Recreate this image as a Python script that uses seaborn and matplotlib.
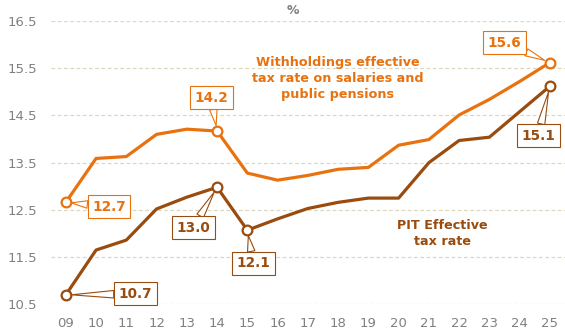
import matplotlib
matplotlib.use("Agg")
import matplotlib.pyplot as plt
import seaborn as sns
import pandas as pd
import numpy as np

years = list(range(9, 26))
year_labels = [f"{y:02d}" for y in years]
withholdings = [12.66, 13.59, 13.63, 14.10, 14.21, 14.17, 13.28, 13.13, 13.23, 13.36, 13.40,
                13.87, 13.99, 14.51, 14.84, 15.22, 15.62]
pit = [10.70, 11.65, 11.86, 12.52, 12.77, 12.98, 12.07, 12.31, 12.53, 12.66, 12.75,
       12.75, 13.50, 13.97, 14.04, 14.58, 15.12]
y_ticks = [10.5, 11.5, 12.5, 13.5, 14.5, 15.5, 16.5]

ORANGE = "#E8720F"
BROWN = "#9A4B0E"
GRAY = "#808080"

sns.set_theme(style="white")
plt.rcParams["font.family"] = ["DejaVu Sans"]

df = pd.DataFrame({"year": years, "Withholdings": withholdings, "PIT": pit})

fig = plt.figure(figsize=(5.65, 3.29), dpi=100)
ax = fig.add_axes([0.0897, 0.075, 1 - 0.0897, 0.861])

sns.lineplot(data=df, x="year", y="Withholdings", ax=ax, color=ORANGE, lw=2.3)
sns.lineplot(data=df, x="year", y="PIT", ax=ax, color=BROWN, lw=2.3)

ax.set_xlim(8.5, 25.5)
ax.set_ylim(10.5, 16.5)
ax.set_xticks(years)
ax.set_xticklabels(year_labels)
ax.set_yticks(y_ticks)
ax.set_yticklabels([f"{v:.1f}" for v in y_ticks])
ax.tick_params(axis="both", length=0, colors=GRAY, labelsize=9.5)
ax.tick_params(axis="x", pad=9)
ax.tick_params(axis="y", pad=10)
ax.set_xlabel("")
ax.set_ylabel("")
for s in ax.spines.values():
    s.set_visible(False)
for yv in y_ticks:
    ax.axhline(yv, color="#DCD8C0", lw=0.9, ls=(0, (3, 2)), zorder=0)

# highlighted points
def marker(x, y, c):
    ax.plot([x], [y], marker="o", ms=7, mfc="white", mec=c, mew=1.6,
            clip_on=False, zorder=5, ls="none")

idx = {y: i for i, y in enumerate(years)}
labels = [
    # (series, year, text, box x, box y, color)
    (withholdings, 14, "14.2", 13.81, 14.88, ORANGE),
    (withholdings, 25, "15.6", 23.50, 16.04, ORANGE),
    (withholdings, 9, "12.7", 10.43, 12.57, ORANGE),
    (pit, 25, "15.1", 24.62, 14.07, BROWN),
    (pit, 14, "13.0", 13.21, 12.12, BROWN),
    (pit, 15, "12.1", 15.20, 11.37, BROWN),
    (pit, 9, "10.7", 11.30, 10.72, BROWN),
]
for series, yr, txt, bx, by, c in labels:
    px, py = yr, series[idx[yr]]
    marker(px, py, c)
    ax.annotate(txt, xy=(px, py), xytext=(bx, by), ha="center", va="center",
                fontsize=9.8, fontweight="bold", color=c, zorder=6,
                bbox=dict(boxstyle="square,pad=0.33", fc="white", ec=c, lw=0.8),
                arrowprops=dict(arrowstyle="wedge,tail_width=0.55,shrink_factor=0.5",
                                fc="white", ec=c, lw=0.8, shrinkA=0, shrinkB=4),
                annotation_clip=False)

ax.text(17.98, 15.29, "Withholdings effective\ntax rate on salaries and\npublic pensions",
        ha="center", va="center", color=ORANGE, fontsize=9.2, fontweight="bold",
        linespacing=1.3)
ax.text(21.45, 11.99, "PIT Effective\ntax rate", ha="center", va="center",
        color=BROWN, fontsize=9.2, fontweight="bold", linespacing=1.3)

fig.text(293 / 565, 1 - 10 / 329, "%", ha="center", va="center", color=GRAY,
         fontsize=9, fontweight="bold")

fig.savefig("out.png", dpi=100)
